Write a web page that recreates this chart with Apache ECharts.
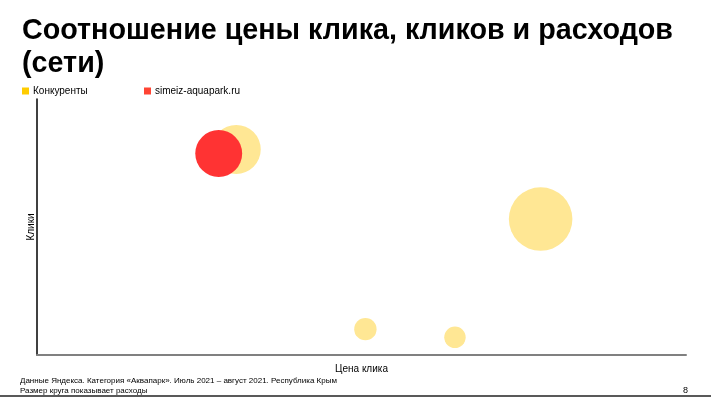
<!DOCTYPE html>
<html>
<head>
<meta charset="utf-8">
<script src="https://cdn.jsdelivr.net/npm/echarts@6/dist/echarts.min.js"></script>
<style>
  html, body { margin: 0; padding: 0; background: #fff; }
  #chart { width: 711px; height: 397px; }
</style>
</head>
<body>
<div id="chart"></div>
<script>
// данные (условные единицы)
const competitorsPrice = [30.7, 77.6, 50.6, 64.4];
const competitorsClicks = [80.3, 53.1, 10.1, 6.9];
const competitorsSpend = [600, 1010, 125, 115];

const ownPrice = [28.0];
const ownClicks = [78.7];
const ownSpend = [550];

const seriesNames = ["Конкуренты", "simeiz-aquapark.ru"];

const toPoints = (xs, ys, ss) => xs.map((x, i) => [x, ys[i], ss[i]]);
const bubbleSize = (v) => 2 * Math.sqrt(v[2]);

const font = "Liberation Sans, Arial, sans-serif";

const legendCommon = {
  top: 86,
  padding: 0,
  icon: "rect",
  itemWidth: 7,
  itemHeight: 7,
  itemGap: 4,
  textStyle: { fontFamily: font, fontSize: 10, color: "#000", padding: [0, 0, 0, -1] },
};

const chart = echarts.init(document.getElementById("chart"));
chart.setOption({
  animation: false,
  title: {
    text: "Соотношение цены клика, кликов и расходов\n(сети)",
    left: 17,
    top: 10,
    textStyle: {
      fontFamily: font,
      fontSize: 28.7,
      fontWeight: "bold",
      color: "#000",
      lineHeight: 33,
    },
  },
  legend: [
    Object.assign({}, legendCommon, {
      left: 22,
      data: [{ name: seriesNames[0], itemStyle: { color: "#FFCC00", opacity: 1 } }],
    }),
    Object.assign({}, legendCommon, {
      left: 144,
      data: [{ name: seriesNames[1], itemStyle: { color: "#FF4433", opacity: 1 } }],
    }),
  ],
  grid: { left: 37, right: 25, top: 99, bottom: 42 },
  xAxis: {
    type: "value",
    min: 0,
    max: 100,
    name: "Цена клика",
    nameLocation: "middle",
    nameGap: 9,
    nameTextStyle: { fontFamily: font, fontSize: 10, color: "#000" },
    axisLine: { show: true, lineStyle: { color: "#808080", width: 2 } },
    axisTick: { show: false },
    axisLabel: { show: false },
    splitLine: { show: false },
  },
  yAxis: {
    type: "value",
    min: 0,
    max: 100,
    name: "Клики",
    nameLocation: "middle",
    nameGap: 1,
    nameTextStyle: { fontFamily: font, fontSize: 10, color: "#000" },
    axisLine: { show: true, lineStyle: { color: "#000", width: 1.5 } },
    axisTick: { show: false },
    axisLabel: { show: false },
    splitLine: { show: false },
  },
  series: [
    {
      name: seriesNames[0],
      type: "scatter",
      data: toPoints(competitorsPrice, competitorsClicks, competitorsSpend),
      symbolSize: bubbleSize,
      itemStyle: { color: "#FFE794", opacity: 1 },
      emphasis: { disabled: true },
    },
    {
      name: seriesNames[1],
      type: "scatter",
      data: toPoints(ownPrice, ownClicks, ownSpend),
      symbolSize: bubbleSize,
      itemStyle: { color: "#FF3333", opacity: 1 },
      emphasis: { disabled: true },
    },
  ],
  graphic: [
    {
      type: "text",
      left: 20,
      top: 376,
      style: {
        text: "Данные Яндекса. Категория «Аквапарк». Июль 2021 – август 2021. Республика Крым\nРазмер круга показывает расходы",
        font: "8px " + font,
        fill: "#000",
        lineHeight: 10,
      },
    },
    {
      type: "text",
      left: 683,
      top: 386,
      style: { text: "8", font: "9px " + font, fill: "#000" },
    },
    {
      type: "line",
      shape: { x1: 0, y1: 396, x2: 711, y2: 396 },
      style: { stroke: "#222", lineWidth: 1.5 },
    },
  ],
});
</script>
</body>
</html>
